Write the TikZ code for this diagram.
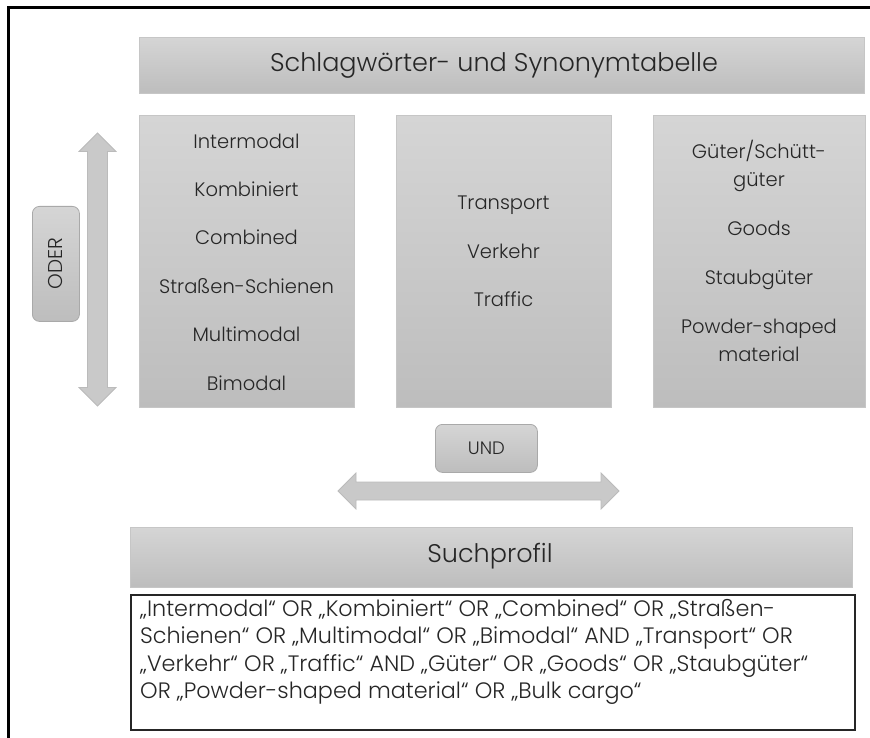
\documentclass[tikz,border=0pt]{standalone}
\usepackage{fontspec}
\setmainfont{Poppins}[UprightFont=* Light]
\definecolor{txt}{HTML}{262626}
\definecolor{boxtop}{HTML}{D5D5D5}
\definecolor{boxbot}{HTML}{BDBDBD}
\definecolor{boxedge}{HTML}{C6C6C6}
\definecolor{tagedge}{HTML}{A9A9A9}
\definecolor{arrowfill}{HTML}{C9C9C9}
\definecolor{arrowedge}{HTML}{BBBBBB}
\tikzset{
  panel/.style={draw=boxedge, line width=1pt, top color=boxtop, bottom color=boxbot,
                inner sep=0pt, anchor=north west, text=txt},
  tag/.style={draw=tagedge, line width=0.8pt, rounded corners=7pt, top color=boxtop,
              bottom color=boxbot, inner sep=0pt, anchor=north west, text=txt},
  term/.style={font=\fontsize{19.5}{28}\selectfont, text=txt, align=center},
  headline/.style={font=\fontsize{25.5}{30}\selectfont, text=txt},
  bigarrow/.style={fill=arrowfill, draw=arrowedge, line width=0.8pt, line join=miter},
}
\begin{document}
\begin{tikzpicture}[x=1pt,y=-1pt]
\useasboundingbox (0,0) rectangle (870,738);

% open frame: top and left edges only
\draw[line width=3pt] (8.5,738) -- (8.5,7.5) -- (870,7.5);

% keyword table heading
\node[panel, minimum width=725pt, minimum height=56pt] (table) at (139,37) {};
\node[headline] (tabletitle) at (494,65) {Schlagwörter- und Synonymtabelle};

% three synonym columns
\node[panel, minimum width=215pt, minimum height=292pt] (colA) at (139,115) {};
\node[panel, minimum width=215pt, minimum height=292pt] (colB) at (396,115) {};
\node[panel, minimum width=212pt, minimum height=292pt] (colC) at (653,115) {};

\node[term] (termsA) at (246.5,262) {Intermodal\\[20.4pt] Kombiniert\\[20.4pt] Combined\\[20.4pt]
  Straßen-Schienen\\[20.4pt] Multimodal\\[20.4pt] Bimodal};
\node[term] (termsB) at (503.5,251.5) {Transport\\[20.6pt] Verkehr\\[20.6pt] Traffic};
\node[term] (termsC) at (759,251) {Güter/Schütt-\\ güter\\[21pt] Goods\\[21pt] Staubgüter\\[21pt]
  Powder-shaped\\ material};

% OR relation (vertical double arrow)
\draw[bigarrow] (97.5,133) -- (116,151.5) -- (107.5,151.5) -- (107.5,387.5) -- (116,387.5)
  -- (97.5,406) -- (79,387.5) -- (87.5,387.5) -- (87.5,151.5) -- (79,151.5) -- cycle;
\node[tag, minimum width=47pt, minimum height=115pt] (oder) at (32,206) {};
\node[text=txt, font=\fontsize{20}{24}\selectfont, rotate=90] (odertext) at (oder.center) {ODER};

% AND relation (horizontal double arrow)
\node[tag, minimum width=102pt, minimum height=48pt] (und) at (435,424) {};
\node[text=txt, font=\fontsize{18}{22}\selectfont] (undtext) at (und.center) {UND};
\draw[bigarrow] (338,491) -- (356,473) -- (356,482) -- (601,482) -- (601,473) -- (619,491)
  -- (601,509) -- (601,500) -- (356,500) -- (356,509) -- cycle;

% search profile
\node[panel, minimum width=722pt, minimum height=60pt] (profile) at (130,527) {};
\node[headline] (profiletitle) at (490,556) {Suchprofil};

\node[draw=black!85, line width=1.6pt, minimum width=724pt, minimum height=135pt,
      inner sep=0pt, anchor=north west] (query) at (130,594) {};
\node[anchor=north west, text=txt, align=left, inner sep=0pt,
      font=\fontsize{22.3}{27.5}\selectfont] (querytext) at (140,599)
  {„Intermodal“ OR „Kombiniert“ OR „Combined“ OR „Straßen-\\
   Schienen“ OR „Multimodal“ OR „Bimodal“ AND „Transport“ OR\\
   „Verkehr“ OR „Traffic“ AND „Güter“ OR „Goods“ OR „Staubgüter“\\
   OR „Powder-shaped material“ OR „Bulk cargo“};
\end{tikzpicture}
\end{document}
